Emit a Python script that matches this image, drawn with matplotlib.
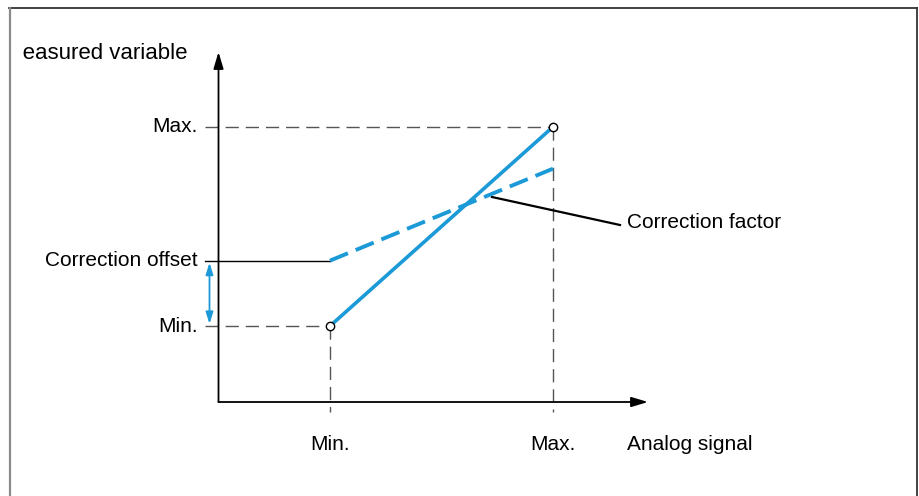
import matplotlib
matplotlib.use("Agg")
import matplotlib.pyplot as plt
from matplotlib.transforms import Bbox

plt.rcParams['font.family'] = ['Liberation Sans', 'DejaVu Sans']
plt.rcParams['lines.scale_dashes'] = False

# data (arbitrary units)
signal_min, signal_max = 1.0, 3.0
meas_min, meas_max = 1.0, 3.62
corr_offset = 1.86
corr_end = 3.07
x_labels = ['Min.', 'Max.']
y_labels = ['Max.', 'Correction offset', 'Min.']
x_title = 'Analog signal'
y_title = 'Measured variable'
note = 'Correction factor'

blue = '#1b9ad7'
W, H = 919, 496

fig = plt.figure(figsize=(W / 100, H / 100), dpi=100)
ax = fig.add_axes([0, 0, 1, 1])
ax.set_axis_off()

# map data units to the canvas: origin at pixel (218.5, 402), 111.5 px per x unit, 76 px per y unit
ox, oy, sx, sy = 218.5, 402.0, 111.5, 76.0
ax.set_xlim(-ox / sx, (W - ox) / sx)
ax.set_ylim(-(H - oy) / sy, oy / sy)


def px(d):
    return d / sx


def py(d):
    return d / sy


# frame (top, left, right)
ax.plot([px(9 - ox), px(917 - ox)], [py(oy - 7.5)] * 2, color='#333333', lw=1.3, clip_on=False)
ax.plot([px(9.5 - ox)] * 2, [py(oy - 7.5), py(oy - H)], color='#8a8a8a', lw=1.6, clip_on=False)
ax.plot([px(917 - ox)] * 2, [py(oy - 7.5), py(oy - H)], color='#333333', lw=1.3, clip_on=False)

# axes arrows
x_end = px(648 - ox)
y_end = py(oy - 52)
head = '-|>,head_length=1.0,head_width=0.3'
ax.annotate('', xy=(x_end, 0), xytext=(0, 0),
            arrowprops=dict(arrowstyle=head, color='black', lw=1.3, shrinkA=0, shrinkB=0))
ax.annotate('', xy=(0, y_end), xytext=(0, 0),
            arrowprops=dict(arrowstyle=head, color='black', lw=1.3, shrinkA=0, shrinkB=0))

tick_l = px(-14)
dash = dict(color='#555555', lw=1.0, dashes=(9.5, 5))

# guide lines
ax.plot([tick_l, signal_max], [meas_max, meas_max], **dash)
ax.plot([tick_l, signal_min], [meas_min, meas_min], **dash)
ax.plot([tick_l, signal_min], [corr_offset, corr_offset], color='black', lw=1.0)
ax.plot([signal_min, signal_min], [meas_min, py(-10)], **dash)
ax.plot([signal_max, signal_max], [meas_max, py(-10)], **dash)

# characteristic lines
ax.plot([signal_min, signal_max], [meas_min, meas_max], color=blue, lw=2.6, solid_capstyle='butt', zorder=3)
ax.plot([signal_min, signal_max], [corr_offset, corr_end], color=blue, lw=2.8,
        dashes=(14, 6), zorder=3)
ax.plot([signal_min, signal_max], [meas_min, meas_max], ls='none', marker='o', ms=6,
        mfc='white', mec='black', mew=1.0, zorder=4)

# offset double arrow
ax.annotate('', xy=(px(-9), meas_min + py(2)), xytext=(px(-9), corr_offset - py(2)),
            arrowprops=dict(arrowstyle='<|-|>,head_length=0.7,head_width=0.22', color=blue, lw=1.3,
                            shrinkA=0, shrinkB=0))

# correction factor leader
fs = 15
ax.plot([px(492 - ox), px(620 - ox)], [py(oy - 197), py(oy - 225)], color='black', lw=1.6)
ax.text(px(627 - ox), py(oy - 222), note, fontsize=fs, va='center', ha='left')

# labels
lx = px(198 - ox)
for lab, yv in zip(y_labels, [meas_max, corr_offset, meas_min]):
    ax.text(lx, yv, lab, fontsize=fs, ha='right', va='center')
for lab, xv in zip(x_labels, [signal_min, signal_max]):
    ax.text(xv, py(oy - 444), lab, fontsize=fs, ha='center', va='center')
ax.text(px(627 - ox), py(oy - 444), x_title, fontsize=fs, ha='left', va='center')

# y title is cut off on the left like in the original
t = ax.text(px(187 - ox), py(oy - 53), y_title, fontsize=16, ha='right', va='center')
t.set_clip_on(True)
t.set_clip_box(Bbox([[20.5, 0], [W, H]]))

fig.savefig('out.png', dpi=100)
